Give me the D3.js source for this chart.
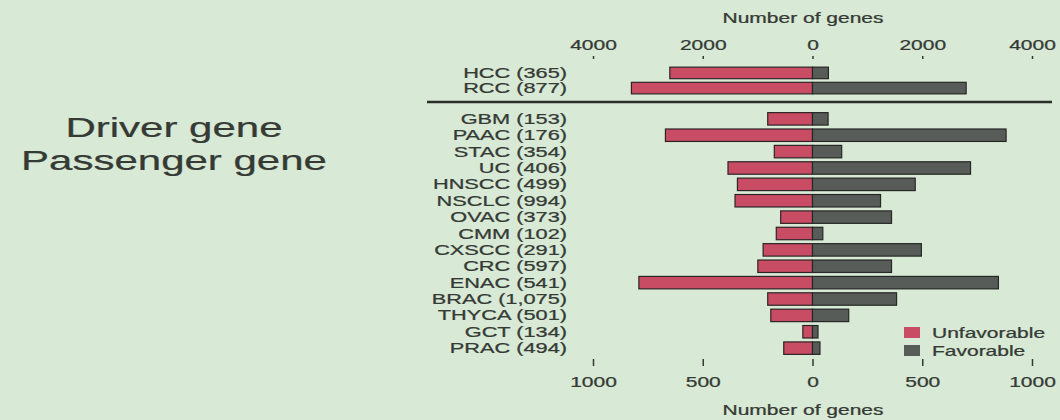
<!DOCTYPE html>
<html>
<head>
<meta charset="utf-8">
<script src="https://cdn.jsdelivr.net/npm/d3@7"></script>
<style>
  html, body { margin: 0; padding: 0; background: #d8e9d6; }
  svg { display: block; }
  text { font-family: "Liberation Sans", Arial, Helvetica, sans-serif; fill: #353a35; stroke: #353a35; stroke-width: 0.25px; }
</style>
</head>
<body>
<div id="chart"></div>
<script>
// data
var topCats = ["HCC (365)", "RCC (877)"];
var topUnfav = [2600, 3300];
var topFav = [290, 2800];
var topTicks = [-4000, -2000, 0, 2000, 4000];

var cats = ["GBM (153)", "PAAC (176)", "STAC (354)", "UC (406)", "HNSCC (499)", "NSCLC (994)",
  "OVAC (373)", "CMM (102)", "CXSCC (291)", "CRC (597)", "ENAC (541)", "BRAC (1,075)",
  "THYCA (501)", "GCT (134)", "PRAC (494)"];
var unfav = [204, 670, 174, 385, 342, 353, 145, 165, 225, 249, 791, 204, 190, 44, 131];
var fav = [71, 882, 133, 720, 468, 310, 360, 47, 496, 360, 847, 383, 165, 25, 34];
var botTicks = [-1000, -500, 0, 500, 1000];

var legendLabels = ["Unfavorable", "Favorable"];
var colors = ["#c84c64", "#585c58"];

var width = 1060, height = 420;
var sx = 1.5; // the photographed slide is stretched sideways

var svg = d3.select("#chart").append("svg")
  .attr("width", width)
  .attr("height", height);

// stretched text helper
function label(g, x, y, str, size, anchor) {
  return g.append("text")
    .attr("transform", `translate(${x},${y}) scale(${sx},1)`)
    .attr("text-anchor", anchor || "start")
    .style("font-size", size + "px")
    .text(str);
}

// left side words
label(svg, 174, 137, "Driver gene", 28, "middle");
label(svg, 174, 170, "Passenger gene", 28, "middle");

// scales
var xTop = d3.scaleLinear().domain([-4000, 4000]).range([593, 1032]);
var xBot = d3.scaleLinear().domain([-1000, 1000]).range([593, 1032]);

var yTop = d3.scaleBand().domain(topCats).range([63.5, 97.5]).padding(0.24);
var yBot = d3.scaleBand().domain(cats).range([108.7, 358.3]).padding(0.24);

// axes
var axTop = svg.append("g")
  .attr("transform", "translate(0,59)")
  .call(d3.axisTop(xTop).tickValues(topTicks).tickSize(3).tickPadding(6)
    .tickFormat(d => Math.abs(d)));
var axBot = svg.append("g")
  .attr("transform", "translate(0,359)")
  .call(d3.axisBottom(xBot).tickValues(botTicks).tickSize(7).tickPadding(11)
    .tickFormat(d => Math.abs(d)));

[axTop, axBot].forEach(ax => {
  ax.select(".domain").remove();
  ax.selectAll(".tick line").attr("stroke", "#353a35").attr("stroke-width", 1.5);
  ax.selectAll(".tick text")
    .attr("fill", "#353a35")
    .attr("transform", `scale(${sx},1)`)
    .style("font-size", "14px")
    .style("font-family", "'Liberation Sans', Arial, sans-serif");
});

label(svg, 803, 23, "Number of genes", 14, "middle");
label(svg, 803, 415, "Number of genes", 14, "middle");

// separator
svg.append("line")
  .attr("x1", 427).attr("x2", 1052)
  .attr("y1", 102).attr("y2", 102)
  .attr("stroke", "#2a2f2a")
  .attr("stroke-width", 2.5);

function drawGroup(names, un, fa, x, y) {
  var g = svg.append("g");
  g.selectAll(".unfav")
    .data(names)
    .enter()
    .append("rect")
    .attr("x", (d, i) => x(-un[i]))
    .attr("y", d => y(d))
    .attr("width", (d, i) => x(0) - x(-un[i]))
    .attr("height", y.bandwidth())
    .attr("fill", colors[0])
    .attr("stroke", "#2e2426")
    .attr("stroke-width", 1.2);
  g.selectAll(".fav")
    .data(names)
    .enter()
    .append("rect")
    .attr("x", x(0))
    .attr("y", d => y(d))
    .attr("width", (d, i) => x(fa[i]) - x(0))
    .attr("height", y.bandwidth())
    .attr("fill", colors[1])
    .attr("stroke", "#262826")
    .attr("stroke-width", 1.2);
  names.forEach(d => {
    label(g, 567, y(d) + y.bandwidth() / 2 + 5, d, 14.5, "end");
  });
}

drawGroup(topCats, topUnfav, topFav, xTop, yTop);
drawGroup(cats, unfav, fav, xBot, yBot);

// legend
var leg = svg.append("g");
legendLabels.forEach((t, i) => {
  leg.append("rect")
    .attr("x", 904).attr("y", 327 + i * 18)
    .attr("width", 16).attr("height", 11)
    .attr("fill", colors[i]);
  label(leg, 932, 338 + i * 18, t, 14, "start");
});
</script>
</body>
</html>
